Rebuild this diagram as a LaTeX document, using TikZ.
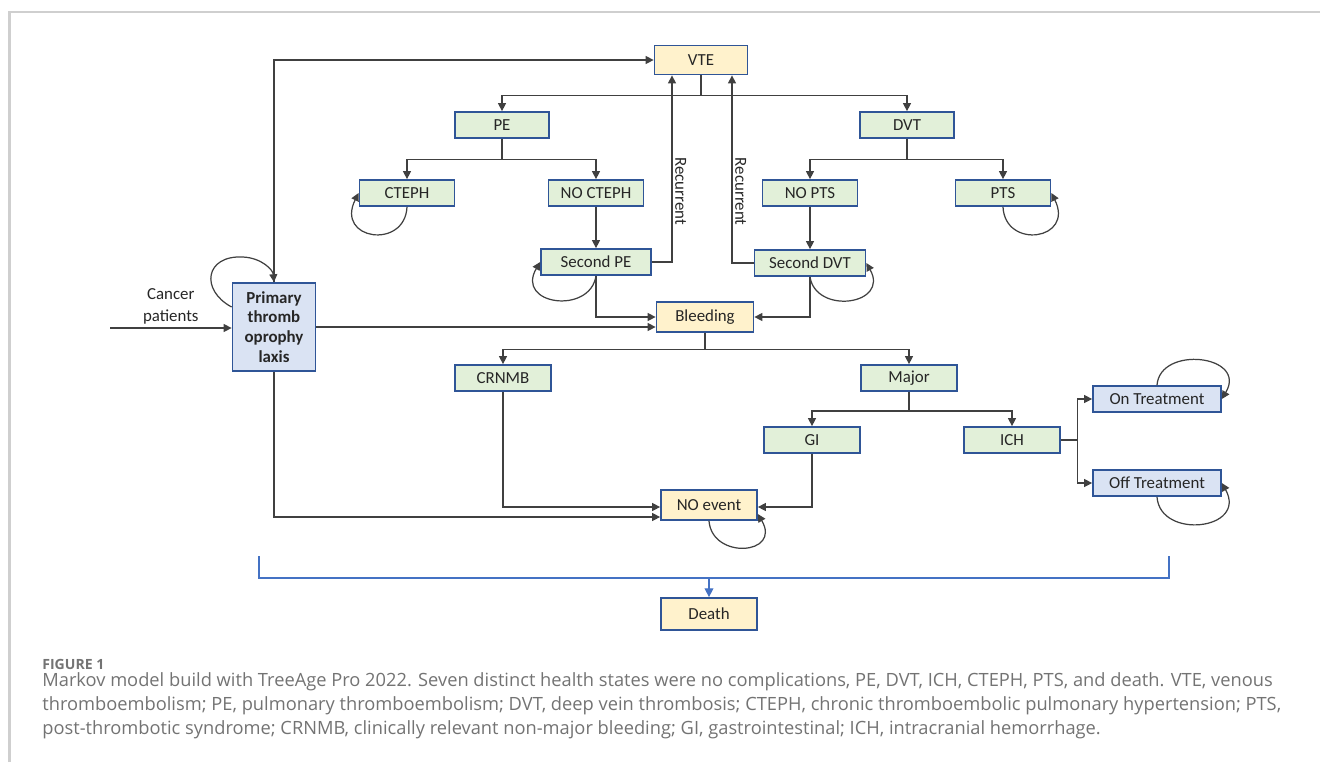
\documentclass[tikz,border=0pt]{standalone}
\usepackage{fontspec}
\setmainfont{Carlito}
\newfontfamily\captionfont{Open Sans}
\usetikzlibrary{arrows.meta}

\definecolor{edgeblue}{HTML}{2F5597}
\definecolor{fillgreen}{HTML}{E2F0D9}
\definecolor{fillcream}{HTML}{FFF2CC}
\definecolor{fillblue}{HTML}{DAE3F3}
\definecolor{linegray}{HTML}{404040}
\definecolor{deathblue}{HTML}{4472C4}
\definecolor{framegray}{HTML}{CFCFCF}
\definecolor{captiongray}{HTML}{737373}

\tikzset{
  state/.style={draw=edgeblue, line width=1pt, inner sep=0pt, minimum width=1.88cm,
    minimum height=0.52cm, text=black!85, font=\fontsize{9.6}{11.5}\selectfont},
  greenstate/.style={state, fill=fillgreen},
  creamstate/.style={state, fill=fillcream, minimum height=0.6cm},
  bluestate/.style={state, fill=fillblue},
  link/.style={draw=linegray, line width=0.7pt, -{Triangle[length=4.5pt,width=4.5pt]}},
  deathlink/.style={draw=deathblue, line width=0.7pt},
  reclabel/.style={rotate=-90, anchor=south, inner sep=1.5pt, text=black!85,
    font=\fontsize{9.6}{11.5}\selectfont},
}

\begin{document}
\begin{tikzpicture}[x=0.02cm, y=-0.02cm]
\useasboundingbox (0,0) rectangle (1320,762);

%frame
\draw[framegray, line width=1.2pt] (9.5,762) -- (9.5,12) -- (1320,12);

%states
\node[creamstate, minimum width=1.86cm, minimum height=0.58cm] (vte) at (701,60) {VTE};
\node[greenstate] (pe) at (502,125) {PE};
\node[greenstate] (dvt) at (907,125) {DVT};
\node[greenstate, minimum width=1.9cm] (cteph) at (407,193) {CTEPH};
\node[greenstate, minimum width=1.9cm] (nocteph) at (596,193) {NO CTEPH};
\node[greenstate, minimum width=1.9cm] (nopts) at (810,193) {NO PTS};
\node[greenstate, minimum width=1.9cm] (pts) at (1003,193) {PTS};
\node[greenstate, minimum width=2.2cm] (secpe) at (596,262) {Second PE};
\node[greenstate, minimum width=2.22cm] (secdvt) at (810,263) {Second DVT};
\node[creamstate, minimum width=1.94cm] (bleed) at (705,317) {Bleeding};
\node[bluestate, minimum width=1.66cm, minimum height=1.76cm, align=center,
  font=\fontsize{9.6}{11.3}\selectfont\bfseries] (prim) at (274,327) {Primary\\thromb\\oprophy\\laxis};
\node[greenstate, minimum width=1.92cm] (crnmb) at (503,378) {CRNMB};
\node[greenstate, minimum width=1.92cm] (major) at (909,378) {Major};
\node[greenstate, minimum width=1.92cm] (gi) at (812,440) {GI};
\node[greenstate, minimum width=1.92cm] (ich) at (1012,440) {ICH};
\node[bluestate, minimum width=2.56cm] (ontr) at (1157,399) {On Treatment};
\node[bluestate, minimum width=2.56cm] (offtr) at (1157,483) {Off Treatment};
\node[creamstate, minimum width=1.92cm] (noev) at (709,505) {NO event};
\node[creamstate, minimum width=1.92cm, minimum height=0.64cm] (death) at (709,614) {Death};

%input
\coordinate (entry) at (110,328);
\draw[link] (entry) -- (prim.west |- entry)
  node[midway, above, align=center, inner sep=2pt, text=black!85,
  font=\fontsize{9.6}{12.5}\selectfont] (cancer) {Cancer\\patients};

%vte branches
\draw[link] (prim.north) |- (vte.west);
\draw[link] (vte.south) -- ++(0,20) -| (pe.north);
\draw[link] (vte.south) -- ++(0,20) -| (dvt.north);
\draw[link] (pe.south) -- ++(0,21) -| (cteph.north);
\draw[link] (pe.south) -- ++(0,21) -| (nocteph.north);
\draw[link] (dvt.south) -- ++(0,21) -| (nopts.north);
\draw[link] (dvt.south) -- ++(0,21) -| (pts.north);
\draw[link] (nocteph) -- (secpe);
\draw[link] (nopts) -- (secdvt);

%recurrent
\draw[link] (secpe.east) -| node[pos=0.69, reclabel] (recpe) {Recurrent} (vte.south -| 672,0);
\draw[link] (secdvt.west) -| node[pos=0.69, reclabel] (recdvt) {Recurrent} (vte.south -| 732,0);

%bleeding
\draw[link] (secpe.south) |- (bleed.west);
\draw[link] (secdvt.south) |- (bleed.east);
\draw[link] (prim.east) -- (bleed.west |- prim.east);
\draw[link] (bleed.south) -- ++(0,17) -| (crnmb.north);
\draw[link] (bleed.south) -- ++(0,17) -| (major.north);
\draw[link] (major.south) -- ++(0,19) -| (gi.north);
\draw[link] (major.south) -- ++(0,19) -| (ich.north);
\draw[link] (ich.east) -- ++(17,0) |- (ontr.west);
\draw[link] (ich.east) -- ++(17,0) |- (offtr.west);

%no event
\draw[link] (crnmb.south) |- (noev.west |- 0,507);
\draw[link] (prim.south) |- (noev.west |- 0,517);
\draw[link] (gi.south) |- (noev.east |- 0,507);

%self loops
\draw[link] (prim.west |- 0,307) .. controls (200,290) and (205,255) .. (243,257)
  .. controls (262,258) and (273,270) .. (prim.north);
\draw[link] (cteph.south) .. controls (405,250) and (335,240) .. (cteph.west);
\draw[link] (secpe.south) .. controls (590,315) and (515,305) .. (secpe.west);
\draw[link] (secdvt.south) .. controls (816,315) and (890,305) .. (secdvt.east);
\draw[link] (pts.south) .. controls (1005,250) and (1075,240) .. (pts.east);
\draw[link] (noev.south) .. controls (712,560) and (782,555) .. (noev.east |- 0,514);
\draw[link] (ontr.north) .. controls (1160,345) and (1248,355) .. (ontr.east);
\draw[link] (offtr.south) .. controls (1160,540) and (1248,530) .. (offtr.east);

%death
\coordinate (dleft) at (259,556);
\coordinate (dright) at (1169,556);
\draw[deathlink] (dleft) -- ++(0,22) -| (dright);
\draw[deathlink, -{Triangle[length=5pt,width=5pt]}] (death.north |- 0,578) -- (death.north);

%caption
\node[anchor=base west, inner sep=0pt, text=captiongray,
  font=\captionfont\fontsize{8}{9}\selectfont\bfseries] (figlabel) at (42,669) {FIGURE 1};
\node[anchor=north west, inner sep=0pt, align=left, text=captiongray,
  font=\captionfont\fontsize{10.4}{13.6}\selectfont] (caption) at (42,672)
  {Markov model build with TreeAge Pro 2022. Seven distinct health states were no complications, PE, DVT, ICH, CTEPH, PTS, and death. VTE, venous\\
   thromboembolism; PE, pulmonary thromboembolism; DVT, deep vein thrombosis; CTEPH, chronic thromboembolic pulmonary hypertension; PTS,\\
   post-thrombotic syndrome; CRNMB, clinically relevant non-major bleeding; GI, gastrointestinal; ICH, intracranial hemorrhage.};
\end{tikzpicture}
\end{document}
